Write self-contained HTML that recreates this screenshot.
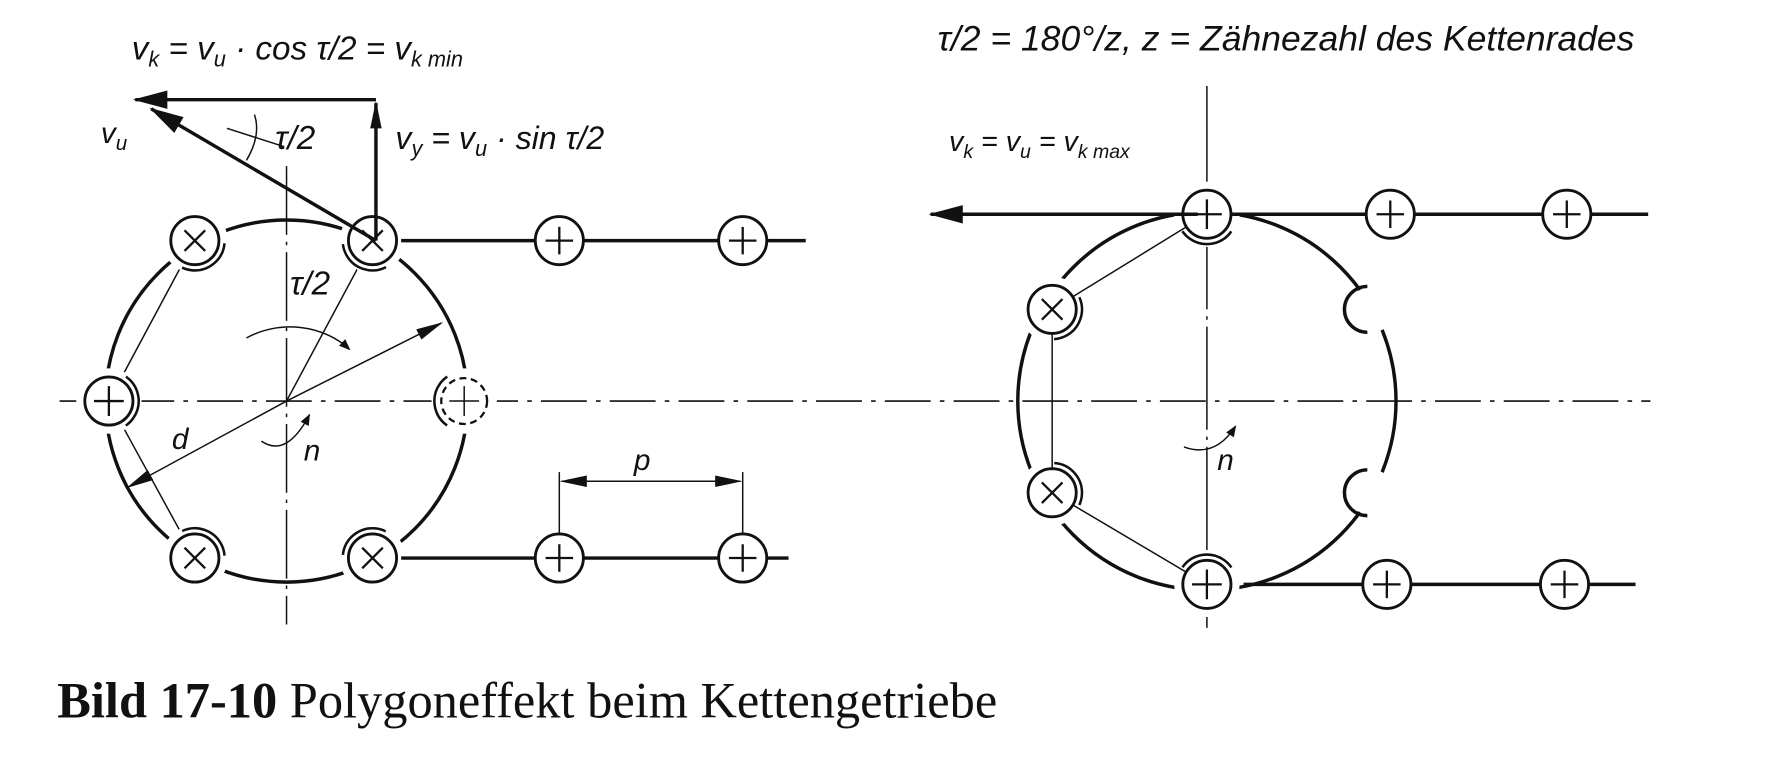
<!DOCTYPE html>
<html><head><meta charset="utf-8"><style>
html,body{margin:0;padding:0;background:#fff;}
svg{display:block}
text{font-family:"Liberation Sans",sans-serif;font-style:italic;fill:#111}
</style></head><body>
<svg width="1788" height="762" viewBox="0 0 1560 665" preserveAspectRatio="none" xmlns="http://www.w3.org/2000/svg">
<defs>
<marker id="ah" markerWidth="10" markerHeight="8" refX="9" refY="4" orient="auto" markerUnits="userSpaceOnUse"><path d="M0,0 L10,4 L0,8 z" fill="#111"/></marker>
<marker id="ahb" markerWidth="30" markerHeight="16" refX="28" refY="8" orient="auto" markerUnits="userSpaceOnUse"><path d="M0,0 L30,8 L0,16 z" fill="#111"/></marker>
<marker id="ahs" markerWidth="24" markerHeight="10" refX="22" refY="5" orient="auto" markerUnits="userSpaceOnUse"><path d="M0,0 L24,5 L0,10 z" fill="#111"/></marker>
</defs>
<g stroke="#111" fill="none">
<line x1="52" y1="350" x2="1440" y2="350" stroke-width="1.5" stroke-dasharray="40,8,4,8"/>
<line x1="250" y1="145" x2="250" y2="545" stroke-width="1.3" stroke-dasharray="60,6,3,6"/>
<line x1="1053" y1="75" x2="1053" y2="548" stroke-width="1.3" stroke-dasharray="90,6,3,6"/>

<circle cx="250" cy="350" r="158" stroke-width="3"/>
<g stroke-width="1.3">
<line x1="170" y1="210" x2="95" y2="350"/><line x1="95" y1="350" x2="170" y2="487"/>
<line x1="250" y1="350" x2="325" y2="210"/><line x1="250" y1="350" x2="385" y2="282" marker-end="url(#ahs)"/>
<line x1="250" y1="350" x2="112" y2="425" marker-end="url(#ahs)"/>
<path d="M215,295 A70,60 0 0 1 305,305" marker-end="url(#ah)"/>
<path d="M228,385 Q250,400 270,362" marker-end="url(#ah)"/>
</g>
<g fill="#fff" stroke="#fff" stroke-width="3">
<circle cx="325" cy="210" r="27"/><circle cx="170" cy="210" r="27"/>
<circle cx="95" cy="350" r="27"/><circle cx="405" cy="350" r="27"/>
<circle cx="170" cy="487" r="27"/><circle cx="325" cy="487" r="27"/>
</g>
<g fill="none" stroke-width="2.2" stroke-dasharray="50,400">
<circle cx="325" cy="210" r="26" transform="rotate(63 325 210)"/>
<circle cx="170" cy="210" r="26" transform="rotate(5 170 210)"/>
<circle cx="95" cy="350" r="26" transform="rotate(-55 95 350)"/>
<circle cx="170" cy="487" r="26" transform="rotate(245 170 487)"/>
<circle cx="325" cy="487" r="26" transform="rotate(186 325 487)"/>
<circle cx="405" cy="350" r="26" transform="rotate(125 405 350)"/>
</g>
<g fill="#fff" stroke-width="2.5">
<circle cx="325" cy="210" r="21"/><circle cx="170" cy="210" r="21"/><circle cx="95" cy="350" r="21"/>
<circle cx="170" cy="487" r="21"/><circle cx="325" cy="487" r="21"/>
<circle cx="405" cy="350" r="20" stroke-dasharray="6,4" stroke-width="2"/>
</g>
<g stroke-width="2">
<path d="M316,201 L334,219 M334,201 L316,219"/><path d="M161,201 L179,219 M179,201 L161,219"/>
<path d="M161,478 L179,496 M179,478 L161,496"/><path d="M316,478 L334,496 M334,478 L316,496"/>
<path d="M82,350 H108 M95,337 V363"/><path d="M392,350 H418 M405,337 V363" stroke-width="1.3"/>
</g>
<g stroke-width="3"><line x1="350" y1="210" x2="703" y2="210"/><line x1="350" y1="487" x2="688" y2="487"/></g>
<g fill="#fff" stroke-width="2.5">
<circle cx="488" cy="210" r="21"/><circle cx="648" cy="210" r="21"/><circle cx="488" cy="487" r="21"/><circle cx="648" cy="487" r="21"/>
</g>
<g stroke-width="2"><path d="M476,210H500M488,198V222M636,210H660M648,198V222M476,487H500M488,475V499M636,487H660M648,475V499"/></g>
<g stroke-width="1.3"><line x1="488" y1="412" x2="488" y2="466"/><line x1="648" y1="412" x2="648" y2="466"/>
<line x1="520" y1="420" x2="490" y2="420" marker-end="url(#ahs)"/><line x1="520" y1="420" x2="646" y2="420" marker-end="url(#ahs)"/></g>
<g stroke-width="3"><line x1="328" y1="87" x2="118" y2="87" marker-end="url(#ahb)"/>
<line x1="328" y1="210" x2="328" y2="90" marker-end="url(#ahs)"/>
<line x1="328" y1="210" x2="132" y2="95" marker-end="url(#ahb)"/></g>
<g stroke-width="1.3"><path d="M222,100 Q228,118 215,140"/><line x1="198" y1="112" x2="248" y2="128"/></g>

<circle cx="1053" cy="350" r="165" stroke-width="3"/>
<g fill="#fff" stroke="none">
<circle cx="1197" cy="270" r="20"/><circle cx="1197" cy="430" r="20"/>
</g>
<g fill="#fff" stroke="#fff" stroke-width="3">
<circle cx="1053" cy="187" r="27"/><circle cx="918" cy="270" r="27"/><circle cx="918" cy="430" r="27"/><circle cx="1053" cy="510" r="27"/>
</g>
<g stroke-width="3"><path d="M1193,250 A20,20 0 0 0 1193,290"/><path d="M1193,410 A20,20 0 0 0 1193,450"/></g>
<g fill="none" stroke-width="2.2" stroke-dasharray="50,400">
<circle cx="1053" cy="187" r="26" transform="rotate(35 1053 187)"/>
<circle cx="918" cy="270" r="26" transform="rotate(-24 918 270)"/>
<circle cx="918" cy="430" r="26" transform="rotate(274 918 430)"/>
<circle cx="1053" cy="510" r="26" transform="rotate(215 1053 510)"/>
</g>
<g stroke-width="1.3"><line x1="918" y1="270" x2="1053" y2="187"/><line x1="918" y1="270" x2="918" y2="430"/><line x1="918" y1="430" x2="1053" y2="510"/>
<path d="M1033,390 Q1060,400 1078,372" marker-end="url(#ah)"/></g>
<g fill="#fff" stroke-width="2.5">
<circle cx="1053" cy="187" r="21"/><circle cx="918" cy="270" r="21"/><circle cx="918" cy="430" r="21"/><circle cx="1053" cy="510" r="21"/>
</g>
<g stroke-width="2"><path d="M1040,187H1066M1053,174V200M1040,510H1066M1053,497V523M909,261L927,279M927,261L909,279M909,421L927,439M927,421L909,439"/></g>
<g stroke-width="3"><line x1="1045" y1="187" x2="812" y2="187" marker-end="url(#ahb)"/><line x1="1075" y1="187" x2="1438" y2="187"/>
<line x1="1085" y1="510" x2="1427" y2="510"/></g>
<g fill="#fff" stroke-width="2.5"><circle cx="1213" cy="187" r="21"/><circle cx="1367" cy="187" r="21"/><circle cx="1210" cy="510" r="21"/><circle cx="1365" cy="510" r="21"/></g>
<g stroke-width="2"><path d="M1201,187H1225M1213,175V199M1355,187H1379M1367,175V199M1198,510H1222M1210,498V522M1353,510H1377M1365,498V522"/></g>
</g>
<text x="115" y="52" font-size="29">v<tspan font-size="19" dy="6">k</tspan><tspan dy="-6"> = v</tspan><tspan font-size="19" dy="6">u</tspan><tspan dy="-6"> · cos τ/2 = v</tspan><tspan font-size="19" dy="6">k min</tspan></text>
<text x="88" y="125" font-size="26">v<tspan font-size="18" dy="6">u</tspan></text>
<text x="240" y="130" font-size="29">τ/2</text>
<text x="345" y="130" font-size="28">v<tspan font-size="19" dy="6">y</tspan><tspan dy="-6"> = v</tspan><tspan font-size="19" dy="6">u</tspan><tspan dy="-6"> · sin τ/2</tspan></text>
<text x="253" y="257" font-size="29">τ/2</text>
<text x="150" y="392" font-size="26">d</text>
<text x="265" y="402" font-size="26">n</text>
<text x="553" y="410" font-size="26">p</text>
<text x="818" y="44" font-size="31">τ/2 = 180°/z, z = Zähnezahl des Kettenrades</text>
<text x="828" y="132" font-size="25">v<tspan font-size="17" dy="6">k</tspan><tspan dy="-6"> = v</tspan><tspan font-size="17" dy="6">u</tspan><tspan dy="-6"> = v</tspan><tspan font-size="17" dy="6">k max</tspan></text>
<text x="1062" y="410" font-size="26">n</text>
<text x="50" y="626" font-size="44" style="font-family:'Liberation Serif',serif;font-style:normal"><tspan font-weight="bold">Bild 17-10</tspan>  Polygoneffekt beim Kettengetriebe</text>
</svg>
</body></html>
